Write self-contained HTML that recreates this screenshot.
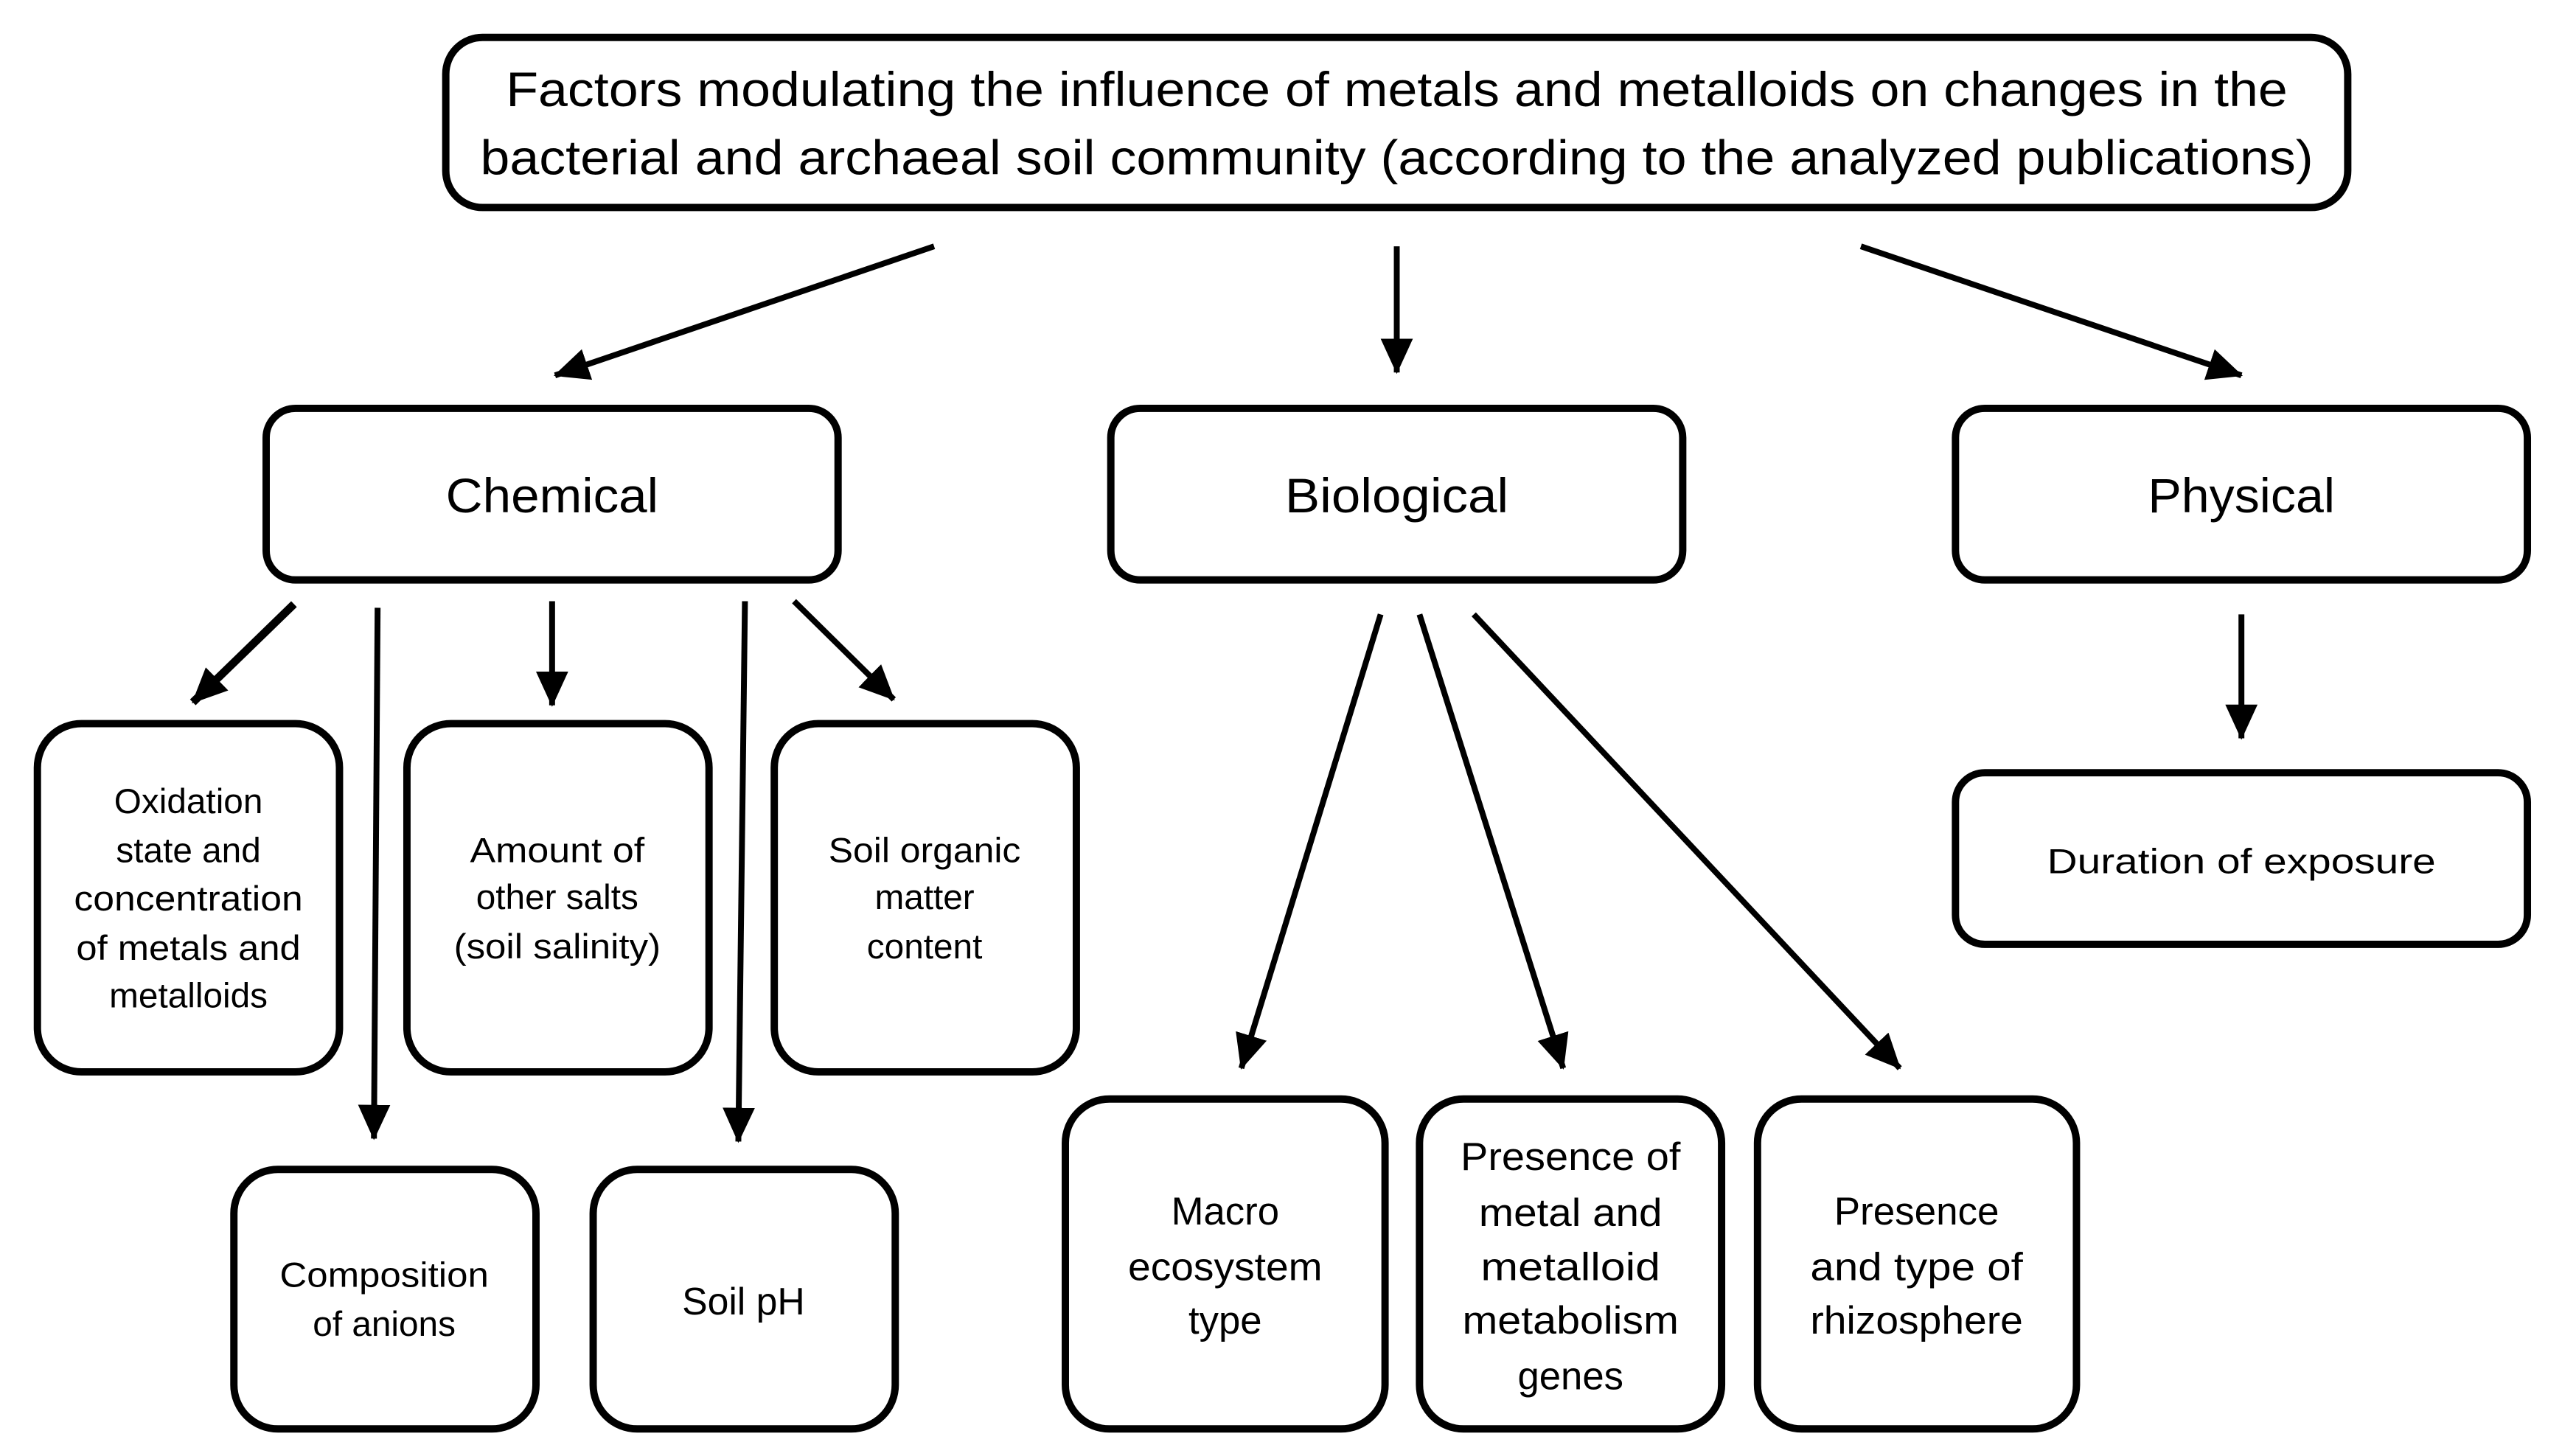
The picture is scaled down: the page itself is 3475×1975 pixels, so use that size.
<!DOCTYPE html>
<html><head><style>html,body{margin:0;padding:0;background:#fff}svg{display:block}</style></head>
<body>
<svg width="3475" height="1975" viewBox="0 0 3475 1975" xmlns="http://www.w3.org/2000/svg" font-family="Liberation Sans, sans-serif" fill="#000">
<defs>
<marker id="a" markerUnits="userSpaceOnUse" markerWidth="50" markerHeight="44" refX="46" refY="22" orient="auto">
<path d="M0,0 L48,22 L0,44 Z" fill="#000"/>
</marker>
</defs>
<g transform="scale(0.9945)">
<g fill="none" stroke="#000" stroke-width="10">
<rect x="608" y="51" width="2594" height="232" rx="50"/>
<rect x="363" y="557" width="780" height="234" rx="40"/>
<rect x="1515" y="557" width="780" height="234" rx="40"/>
<rect x="2667" y="557" width="780" height="234" rx="40"/>
<rect x="51" y="987" width="412" height="475" rx="60"/>
<rect x="555" y="987" width="412" height="475" rx="60"/>
<rect x="1056" y="987" width="412" height="475" rx="60"/>
<rect x="319" y="1595" width="412" height="354" rx="60"/>
<rect x="809" y="1595" width="412" height="354" rx="60"/>
<rect x="1453" y="1499" width="436" height="450" rx="60"/>
<rect x="1936" y="1499" width="412" height="450" rx="60"/>
<rect x="2397" y="1499" width="435" height="450" rx="60"/>
<rect x="2667" y="1054" width="780" height="234" rx="40"/>
</g>
<g stroke="#000" stroke-width="8" marker-end="url(#a)">
<line x1="1274" y1="336" x2="757" y2="512"/>
<line x1="1905" y1="336" x2="1905" y2="508"/>
<line x1="2538" y1="336" x2="3057" y2="512"/>
<line x1="401" y1="824" x2="263" y2="958" stroke-width="11"/>
<line x1="515" y1="829" x2="510" y2="1553"/>
<line x1="753" y1="820" x2="753" y2="962"/>
<line x1="1016" y1="820" x2="1007" y2="1557"/>
<line x1="1083" y1="820" x2="1219" y2="954"/>
<line x1="1883" y1="838" x2="1693" y2="1457"/>
<line x1="1936" y1="838" x2="2132" y2="1457"/>
<line x1="2010" y1="838" x2="2591" y2="1457"/>
<line x1="3057" y1="838" x2="3057" y2="1007"/>
</g>
<g text-anchor="middle" font-size="66">
<text x="1905" y="145" textLength="2430" lengthAdjust="spacingAndGlyphs">Factors modulating the influence of metals and metalloids on changes in the</text>
<text x="1905" y="238" textLength="2500" lengthAdjust="spacingAndGlyphs">bacterial and archaeal soil community (according to the analyzed publications)</text>
<text x="753" y="699" textLength="290" lengthAdjust="spacingAndGlyphs">Chemical</text>
<text x="1905" y="699" textLength="305" lengthAdjust="spacingAndGlyphs">Biological</text>
<text x="3057" y="699" textLength="255" lengthAdjust="spacingAndGlyphs">Physical</text>
</g>
<g text-anchor="middle" font-size="48">
<text x="257" y="1109">Oxidation</text>
<text x="257" y="1176">state and</text>
<text x="257" y="1242" textLength="312" lengthAdjust="spacingAndGlyphs">concentration</text>
<text x="257" y="1309" textLength="306" lengthAdjust="spacingAndGlyphs">of metals and</text>
<text x="257" y="1374">metalloids</text>
<text x="760" y="1176" textLength="238" lengthAdjust="spacingAndGlyphs">Amount of</text>
<text x="760" y="1240">other salts</text>
<text x="760" y="1307" textLength="282" lengthAdjust="spacingAndGlyphs">(soil salinity)</text>
<text x="1261" y="1176" textLength="262" lengthAdjust="spacingAndGlyphs">Soil organic</text>
<text x="1261" y="1240">matter</text>
<text x="1261" y="1307">content</text>
<text x="524" y="1755" textLength="285" lengthAdjust="spacingAndGlyphs">Composition</text>
<text x="524" y="1822">of anions</text>
<text x="1014" y="1793" font-size="52">Soil pH</text>
<text x="3057" y="1191" textLength="530" lengthAdjust="spacingAndGlyphs">Duration of exposure</text>
</g>
<g text-anchor="middle" font-size="53">
<text x="1671" y="1670">Macro</text>
<text x="1671" y="1746" textLength="265" lengthAdjust="spacingAndGlyphs">ecosystem</text>
<text x="1671" y="1819">type</text>
<text x="2142" y="1596" textLength="300" lengthAdjust="spacingAndGlyphs">Presence  of</text>
<text x="2142" y="1672" textLength="250" lengthAdjust="spacingAndGlyphs">metal and</text>
<text x="2142" y="1746" textLength="245" lengthAdjust="spacingAndGlyphs">metalloid</text>
<text x="2142" y="1819" textLength="295" lengthAdjust="spacingAndGlyphs">metabolism</text>
<text x="2142" y="1895">genes</text>
<text x="2614" y="1670" textLength="225" lengthAdjust="spacingAndGlyphs">Presence</text>
<text x="2614" y="1746" textLength="290" lengthAdjust="spacingAndGlyphs">and type of</text>
<text x="2614" y="1819" textLength="290" lengthAdjust="spacingAndGlyphs">rhizosphere</text>
</g>
</g>
</svg>
</body></html>
